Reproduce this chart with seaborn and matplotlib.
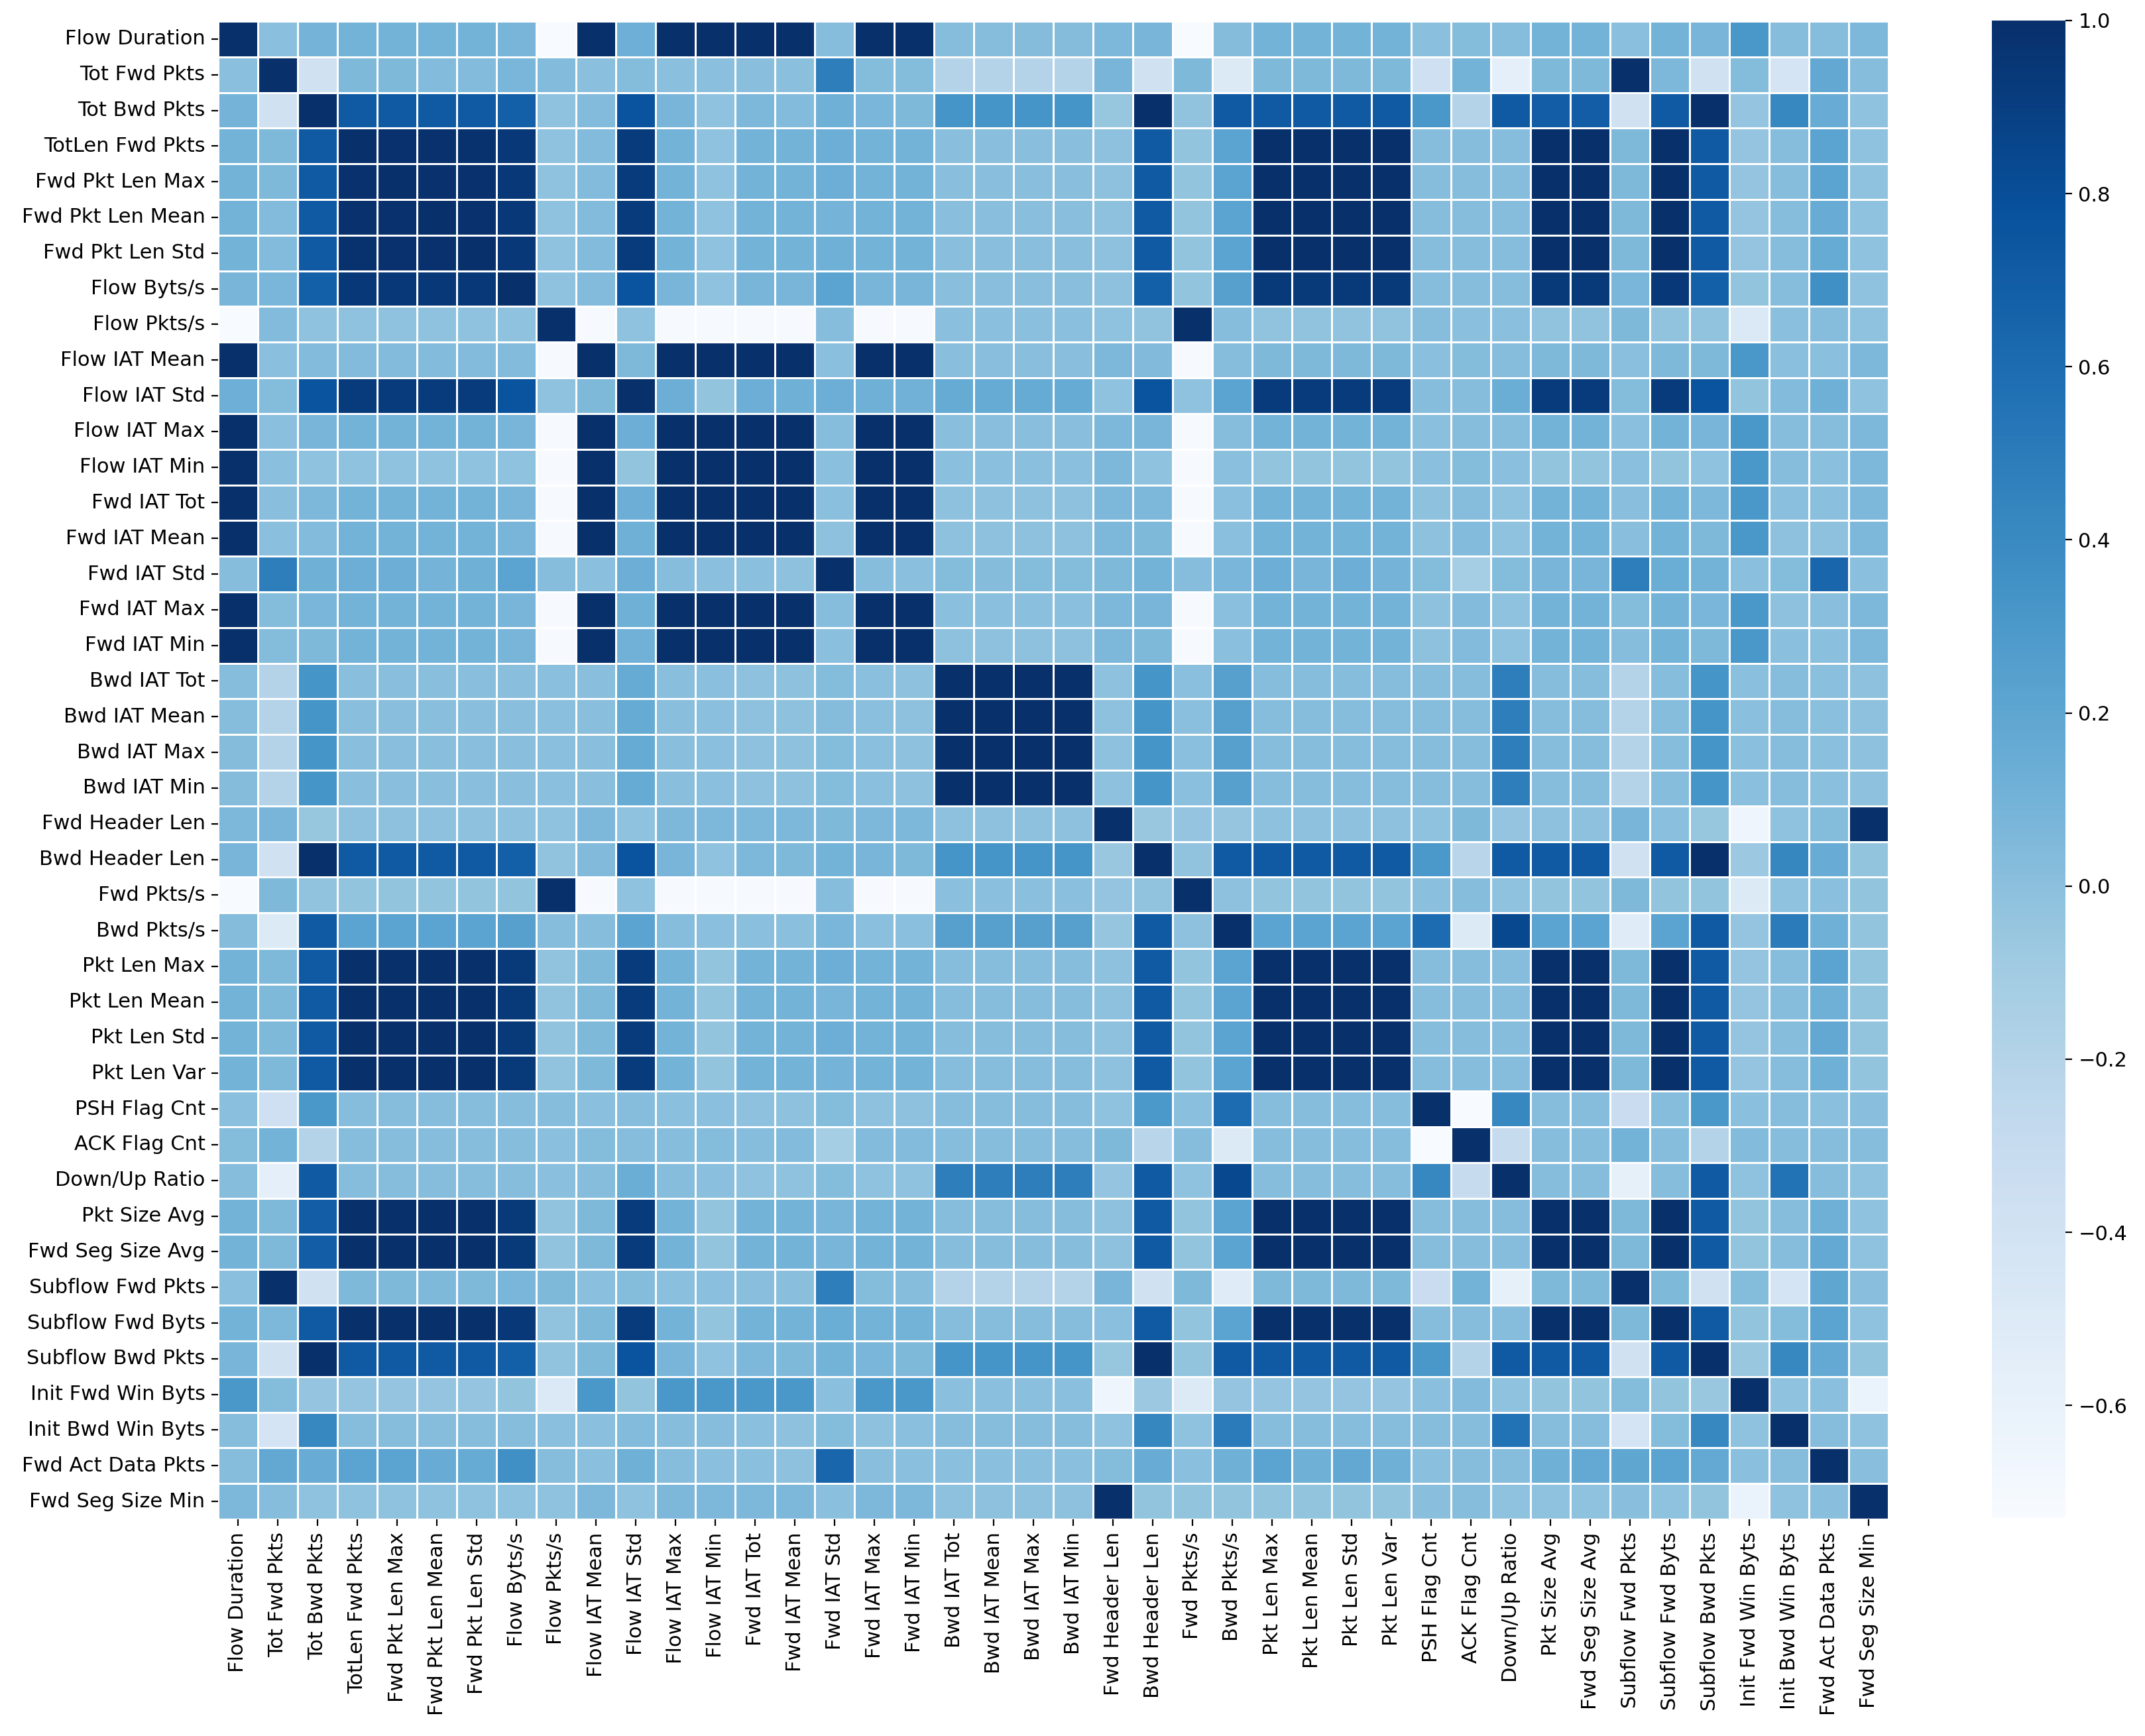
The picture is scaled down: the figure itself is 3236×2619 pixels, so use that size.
import numpy as np
import pandas as pd
import seaborn as sns
import matplotlib.pyplot as plt

features = [
    "Flow Duration", "Tot Fwd Pkts", "Tot Bwd Pkts", "TotLen Fwd Pkts",
    "Fwd Pkt Len Max", "Fwd Pkt Len Mean", "Fwd Pkt Len Std", "Flow Byts/s",
    "Flow Pkts/s", "Flow IAT Mean", "Flow IAT Std", "Flow IAT Max",
    "Flow IAT Min", "Fwd IAT Tot", "Fwd IAT Mean", "Fwd IAT Std",
    "Fwd IAT Max", "Fwd IAT Min", "Bwd IAT Tot", "Bwd IAT Mean",
    "Bwd IAT Max", "Bwd IAT Min", "Fwd Header Len", "Bwd Header Len",
    "Fwd Pkts/s", "Bwd Pkts/s", "Pkt Len Max", "Pkt Len Mean",
    "Pkt Len Std", "Pkt Len Var", "PSH Flag Cnt", "ACK Flag Cnt",
    "Down/Up Ratio", "Pkt Size Avg", "Fwd Seg Size Avg", "Subflow Fwd Pkts",
    "Subflow Fwd Byts", "Subflow Bwd Pkts", "Init Fwd Win Byts",
    "Init Bwd Win Byts", "Fwd Act Data Pkts", "Fwd Seg Size Min",
]

# correlation values, one list per row
corr_rows = [
    [1, 0.0, 0.1, 0.1, 0.1, 0.1, 0.1, 0.08, -0.73, 1,
     0.12, 1, 1, 1, 1, 0.02, 1, 1, 0.02, 0.02,
     0.03, 0.03, 0.06, 0.08, -0.73, 0.03, 0.1, 0.1, 0.1, 0.1,
     0.0, 0.03, 0.02, 0.1, 0.1, 0.0, 0.1, 0.08, 0.31, 0.02,
     0.02, 0.06],
    [0.0, 1, -0.38, 0.05, 0.05, 0.04, 0.04, 0.07, 0.04, 0.0,
     0.03, 0.0, 0.0, 0.01, 0.0, 0.48, 0.03, 0.03, -0.2, -0.2,
     -0.2, -0.2, 0.08, -0.38, 0.05, -0.5, 0.05, 0.05, 0.05, 0.05,
     -0.37, 0.1, -0.57, 0.05, 0.05, 1, 0.06, -0.38, 0.03, -0.42,
     0.18, 0.02],
    [0.08, -0.38, 1, 0.72, 0.72, 0.72, 0.72, 0.68, -0.02, 0.04,
     0.77, 0.08, -0.02, 0.06, 0.04, 0.12, 0.07, 0.05, 0.33, 0.33,
     0.33, 0.33, -0.05, 1, -0.02, 0.72, 0.72, 0.72, 0.72, 0.72,
     0.31, -0.2, 0.72, 0.7, 0.7, -0.38, 0.72, 1, -0.04, 0.42,
     0.15, -0.02],
    [0.1, 0.05, 0.72, 1, 0.99, 0.99, 0.98, 0.94, -0.02, 0.04,
     0.92, 0.1, -0.02, 0.1, 0.1, 0.13, 0.1, 0.1, 0.01, 0.01,
     0.01, 0.01, -0.01, 0.72, -0.03, 0.22, 1, 1, 1, 1,
     0.02, 0.02, 0.02, 1, 1, 0.05, 1, 0.72, -0.04, 0.02,
     0.22, -0.02],
    [0.1, 0.05, 0.72, 0.99, 1, 0.99, 0.99, 0.94, -0.02, 0.04,
     0.92, 0.1, -0.02, 0.1, 0.1, 0.13, 0.1, 0.1, 0.01, 0.01,
     0.01, 0.01, -0.01, 0.72, -0.03, 0.22, 1, 1, 1, 1,
     0.02, 0.02, 0.02, 1, 1, 0.05, 1, 0.72, -0.04, 0.02,
     0.22, -0.02],
    [0.1, 0.04, 0.72, 0.99, 0.99, 1, 0.99, 0.94, -0.02, 0.04,
     0.92, 0.1, -0.02, 0.1, 0.1, 0.09, 0.1, 0.1, 0.01, 0.01,
     0.01, 0.01, -0.01, 0.72, -0.03, 0.22, 1, 1, 1, 1,
     0.02, 0.02, 0.02, 1, 1, 0.05, 1, 0.72, -0.04, 0.02,
     0.15, -0.02],
    [0.1, 0.04, 0.72, 0.98, 0.99, 0.99, 1, 0.94, -0.02, 0.04,
     0.92, 0.1, -0.02, 0.1, 0.1, 0.12, 0.1, 0.1, 0.01, 0.01,
     0.01, 0.01, -0.01, 0.72, -0.03, 0.22, 1, 1, 1, 1,
     0.02, 0.02, 0.02, 1, 1, 0.05, 1, 0.72, -0.04, 0.02,
     0.16, -0.02],
    [0.08, 0.07, 0.68, 0.94, 0.94, 0.94, 0.94, 1, -0.02, 0.04,
     0.77, 0.08, -0.02, 0.08, 0.08, 0.22, 0.08, 0.07, 0.01, 0.01,
     0.01, 0.01, -0.01, 0.68, -0.03, 0.24, 0.93, 0.93, 0.93, 0.93,
     0.02, 0.02, 0.02, 0.93, 0.93, 0.07, 0.94, 0.68, -0.03, 0.02,
     0.36, -0.02],
    [-0.73, 0.04, -0.02, -0.02, -0.02, -0.02, -0.02, -0.02, 1, -0.72,
     -0.02, -0.72, -0.72, -0.72, -0.72, 0.02, -0.72, -0.72, 0.0, 0.0,
     0.0, 0.0, -0.02, -0.02, 1, 0.02, -0.02, -0.02, -0.02, -0.02,
     0.02, 0.0, 0.0, -0.02, -0.02, 0.05, -0.02, -0.02, -0.48, 0.0,
     0.02, -0.02],
    [1, 0.0, 0.04, 0.04, 0.04, 0.04, 0.04, 0.04, -0.72, 1,
     0.05, 1, 1, 1, 1, 0.0, 1, 1, 0.01, 0.01,
     0.01, 0.01, 0.06, 0.05, -0.72, 0.02, 0.05, 0.05, 0.05, 0.05,
     0.0, 0.03, 0.02, 0.05, 0.05, 0.0, 0.05, 0.05, 0.31, 0.0,
     0.0, 0.06],
    [0.13, 0.03, 0.77, 0.92, 0.92, 0.92, 0.92, 0.77, -0.02, 0.05,
     1, 0.13, -0.03, 0.13, 0.12, 0.13, 0.12, 0.1, 0.16, 0.16,
     0.16, 0.16, -0.02, 0.77, -0.02, 0.22, 0.92, 0.92, 0.92, 0.92,
     0.02, 0.02, 0.14, 0.92, 0.92, 0.03, 0.92, 0.77, -0.03, 0.04,
     0.12, -0.02],
    [1, 0.0, 0.08, 0.1, 0.1, 0.1, 0.1, 0.08, -0.72, 1,
     0.13, 1, 1, 1, 1, 0.02, 1, 1, 0.01, 0.01,
     0.01, 0.01, 0.06, 0.08, -0.72, 0.02, 0.1, 0.1, 0.1, 0.1,
     0.0, 0.02, 0.02, 0.1, 0.1, 0.0, 0.1, 0.08, 0.31, 0.02,
     0.02, 0.06],
    [1, 0.0, -0.02, -0.02, -0.02, -0.02, -0.02, -0.02, -0.72, 1,
     -0.03, 1, 1, 1, 1, 0.0, 1, 1, 0.0, 0.0,
     0.0, 0.0, 0.06, -0.02, -0.72, 0.0, -0.03, -0.03, -0.03, -0.03,
     0.0, 0.03, 0.0, -0.03, -0.03, 0.0, -0.03, -0.02, 0.31, 0.02,
     0.0, 0.06],
    [1, 0.01, 0.06, 0.1, 0.1, 0.1, 0.1, 0.08, -0.72, 1,
     0.13, 1, 1, 1, 1, 0.0, 1, 1, -0.01, -0.01,
     -0.01, -0.01, 0.06, 0.06, -0.72, 0.0, 0.1, 0.1, 0.1, 0.1,
     -0.01, 0.02, -0.02, 0.1, 0.1, 0.01, 0.1, 0.06, 0.31, 0.0,
     0.0, 0.06],
    [1, 0.0, 0.04, 0.1, 0.1, 0.1, 0.1, 0.08, -0.72, 1,
     0.12, 1, 1, 1, 1, -0.01, 1, 1, -0.01, -0.01,
     -0.01, -0.01, 0.06, 0.05, -0.72, 0.0, 0.1, 0.1, 0.1, 0.1,
     -0.01, 0.04, -0.02, 0.1, 0.1, 0.01, 0.1, 0.05, 0.31, -0.01,
     -0.01, 0.06],
    [0.02, 0.48, 0.12, 0.13, 0.13, 0.09, 0.12, 0.22, 0.02, 0.0,
     0.13, 0.02, 0.0, 0.0, -0.01, 1, 0.02, 0.0, 0.03, 0.02,
     0.03, 0.03, 0.05, 0.1, 0.02, 0.07, 0.13, 0.08, 0.13, 0.09,
     0.03, -0.12, 0.03, 0.08, 0.08, 0.48, 0.14, 0.1, 0.0, 0.03,
     0.64, 0.0],
    [1, 0.03, 0.07, 0.1, 0.1, 0.1, 0.1, 0.08, -0.72, 1,
     0.12, 1, 1, 1, 1, 0.02, 1, 1, 0.0, 0.0,
     0.0, 0.0, 0.06, 0.07, -0.72, 0.0, 0.1, 0.1, 0.1, 0.1,
     -0.01, 0.04, -0.02, 0.1, 0.1, 0.03, 0.1, 0.07, 0.31, -0.01,
     0.01, 0.06],
    [1, 0.03, 0.05, 0.1, 0.1, 0.1, 0.1, 0.08, -0.72, 1,
     0.12, 1, 1, 1, 1, 0.0, 1, 1, -0.01, -0.01,
     -0.01, -0.01, 0.06, 0.05, -0.72, 0.0, 0.1, 0.1, 0.1, 0.1,
     -0.01, 0.04, -0.02, 0.1, 0.1, 0.02, 0.1, 0.05, 0.31, 0.0,
     0.0, 0.06],
    [0.02, -0.2, 0.33, 0.01, 0.01, 0.01, 0.01, 0.01, 0.0, 0.01,
     0.16, 0.01, 0.0, -0.01, -0.01, 0.03, 0.0, -0.01, 1, 1,
     1, 1, -0.01, 0.33, 0.0, 0.24, 0.02, 0.02, 0.02, 0.02,
     0.02, 0.02, 0.48, 0.02, 0.02, -0.2, 0.02, 0.33, 0.0, 0.02,
     0.0, -0.01],
    [0.02, -0.2, 0.33, 0.01, 0.01, 0.01, 0.01, 0.01, 0.0, 0.01,
     0.16, 0.01, 0.0, -0.01, -0.01, 0.03, 0.0, -0.01, 1, 1,
     1, 1, -0.01, 0.33, 0.0, 0.24, 0.02, 0.02, 0.02, 0.02,
     0.02, 0.02, 0.48, 0.02, 0.02, -0.2, 0.02, 0.33, 0.0, 0.02,
     0.0, -0.01],
    [0.02, -0.2, 0.33, 0.01, 0.01, 0.01, 0.01, 0.01, 0.0, 0.01,
     0.16, 0.01, 0.0, -0.01, -0.01, 0.03, 0.0, -0.01, 1, 1,
     1, 1, -0.01, 0.33, 0.0, 0.24, 0.02, 0.02, 0.02, 0.02,
     0.02, 0.02, 0.48, 0.02, 0.02, -0.2, 0.02, 0.33, 0.0, 0.02,
     0.0, -0.01],
    [0.02, -0.2, 0.33, 0.01, 0.01, 0.01, 0.01, 0.01, 0.0, 0.01,
     0.16, 0.01, 0.0, -0.01, -0.01, 0.03, 0.0, -0.01, 1, 1,
     1, 1, -0.01, 0.33, 0.0, 0.24, 0.02, 0.02, 0.02, 0.02,
     0.02, 0.02, 0.48, 0.02, 0.02, -0.2, 0.02, 0.33, 0.0, 0.02,
     0.0, -0.01],
    [0.06, 0.08, -0.05, -0.01, -0.01, -0.01, -0.01, -0.01, -0.02, 0.06,
     -0.02, 0.06, 0.06, 0.06, 0.06, 0.05, 0.06, 0.06, -0.01, -0.01,
     -0.01, -0.01, 1, -0.06, -0.03, -0.04, -0.01, -0.01, -0.01, -0.01,
     -0.02, 0.05, -0.04, -0.01, -0.01, 0.08, 0.0, -0.05, -0.65, -0.02,
     0.03, 1],
    [0.08, -0.38, 1, 0.72, 0.72, 0.72, 0.72, 0.68, -0.03, 0.04,
     0.77, 0.08, -0.02, 0.06, 0.05, 0.1, 0.08, 0.05, 0.33, 0.33,
     0.33, 0.33, -0.06, 1, -0.02, 0.72, 0.72, 0.72, 0.72, 0.72,
     0.3, -0.22, 0.72, 0.72, 0.72, -0.38, 0.72, 1, -0.07, 0.43,
     0.15, -0.03],
    [-0.73, 0.05, -0.03, -0.03, -0.03, -0.03, -0.03, -0.03, 1, -0.72,
     -0.02, -0.72, -0.72, -0.72, -0.72, 0.02, -0.72, -0.72, 0.0, 0.0,
     0.0, 0.0, -0.04, -0.03, 1, -0.01, -0.03, -0.03, -0.03, -0.03,
     0.0, 0.02, -0.02, -0.03, -0.03, 0.05, -0.03, -0.03, -0.5, -0.02,
     0.0, -0.03],
    [0.02, -0.5, 0.72, 0.22, 0.22, 0.22, 0.22, 0.24, 0.02, 0.02,
     0.22, 0.02, 0.0, 0.0, 0.0, 0.07, 0.0, 0.0, 0.24, 0.24,
     0.24, 0.24, -0.05, 0.72, -0.01, 1, 0.22, 0.22, 0.22, 0.22,
     0.6, -0.5, 0.84, 0.22, 0.22, -0.52, 0.22, 0.72, -0.04, 0.5,
     0.12, -0.03],
    [0.1, 0.05, 0.72, 1, 1, 1, 1, 0.93, -0.03, 0.05,
     0.92, 0.1, -0.03, 0.1, 0.1, 0.13, 0.1, 0.1, 0.02, 0.02,
     0.02, 0.02, -0.01, 0.72, -0.03, 0.22, 1, 1, 1, 1,
     0.02, 0.02, 0.02, 1, 1, 0.05, 1, 0.72, -0.04, 0.02,
     0.22, -0.03],
    [0.1, 0.05, 0.72, 1, 1, 1, 1, 0.93, -0.03, 0.05,
     0.92, 0.1, -0.03, 0.1, 0.1, 0.08, 0.1, 0.1, 0.02, 0.02,
     0.02, 0.02, -0.01, 0.72, -0.03, 0.22, 1, 1, 1, 1,
     0.02, 0.02, 0.02, 1, 1, 0.05, 1, 0.72, -0.04, 0.02,
     0.12, -0.03],
    [0.1, 0.05, 0.72, 1, 1, 1, 1, 0.93, -0.03, 0.05,
     0.92, 0.1, -0.03, 0.1, 0.1, 0.13, 0.1, 0.1, 0.02, 0.02,
     0.02, 0.02, -0.01, 0.72, -0.03, 0.22, 1, 1, 1, 1,
     0.02, 0.02, 0.02, 1, 1, 0.05, 1, 0.72, -0.04, 0.02,
     0.18, -0.03],
    [0.1, 0.05, 0.72, 1, 1, 1, 1, 0.93, -0.03, 0.05,
     0.92, 0.1, -0.03, 0.1, 0.1, 0.09, 0.1, 0.1, 0.02, 0.02,
     0.02, 0.02, -0.01, 0.72, -0.03, 0.22, 1, 1, 1, 1,
     0.02, 0.02, 0.02, 1, 1, 0.05, 1, 0.72, -0.04, 0.02,
     0.12, -0.03],
    [0.0, -0.37, 0.31, 0.02, 0.02, 0.02, 0.02, 0.02, 0.02, 0.0,
     0.02, 0.0, 0.0, -0.01, -0.01, 0.03, -0.01, -0.01, 0.02, 0.02,
     0.02, 0.02, -0.02, 0.3, 0.0, 0.6, 0.02, 0.02, 0.02, 0.02,
     1, -0.73, 0.42, 0.02, 0.02, -0.33, 0.02, 0.31, 0.0, 0.02,
     0.0, 0.01],
    [0.03, 0.1, -0.2, 0.02, 0.02, 0.02, 0.02, 0.02, 0.0, 0.03,
     0.02, 0.02, 0.03, 0.02, 0.04, -0.12, 0.04, 0.04, 0.02, 0.02,
     0.02, 0.02, 0.05, -0.22, 0.02, -0.5, 0.02, 0.02, 0.02, 0.02,
     -0.73, 1, -0.3, 0.02, 0.02, 0.1, 0.02, -0.2, 0.04, 0.02,
     0.02, 0.02],
    [0.02, -0.57, 0.72, 0.02, 0.02, 0.02, 0.02, 0.02, 0.0, 0.02,
     0.14, 0.02, 0.0, -0.02, -0.02, 0.03, -0.02, -0.02, 0.48, 0.48,
     0.48, 0.48, -0.04, 0.72, -0.02, 0.84, 0.02, 0.02, 0.02, 0.02,
     0.42, -0.3, 1, 0.02, 0.02, -0.58, 0.02, 0.72, -0.02, 0.56,
     0.02, -0.02],
    [0.1, 0.05, 0.7, 1, 1, 1, 1, 0.93, -0.03, 0.05,
     0.92, 0.1, -0.03, 0.1, 0.1, 0.08, 0.1, 0.1, 0.02, 0.02,
     0.02, 0.02, -0.01, 0.72, -0.03, 0.22, 1, 1, 1, 1,
     0.02, 0.02, 0.02, 1, 1, 0.05, 1, 0.72, -0.03, 0.02,
     0.12, -0.02],
    [0.1, 0.05, 0.7, 1, 1, 1, 1, 0.93, -0.03, 0.05,
     0.92, 0.1, -0.03, 0.1, 0.1, 0.08, 0.1, 0.1, 0.02, 0.02,
     0.02, 0.02, -0.01, 0.72, -0.03, 0.22, 1, 1, 1, 1,
     0.02, 0.02, 0.02, 1, 1, 0.05, 1, 0.72, -0.03, 0.02,
     0.17, -0.02],
    [0.0, 1, -0.38, 0.05, 0.05, 0.05, 0.05, 0.07, 0.05, 0.0,
     0.03, 0.0, 0.0, 0.01, 0.01, 0.48, 0.03, 0.02, -0.2, -0.2,
     -0.2, -0.2, 0.08, -0.38, 0.05, -0.52, 0.05, 0.05, 0.05, 0.05,
     -0.33, 0.1, -0.58, 0.05, 0.05, 1, 0.05, -0.38, 0.03, -0.42,
     0.2, 0.01],
    [0.1, 0.06, 0.72, 1, 1, 1, 1, 0.94, -0.03, 0.05,
     0.92, 0.1, -0.03, 0.1, 0.1, 0.14, 0.1, 0.1, 0.02, 0.02,
     0.02, 0.02, 0.0, 0.72, -0.03, 0.22, 1, 1, 1, 1,
     0.02, 0.02, 0.02, 1, 1, 0.05, 1, 0.72, -0.03, 0.03,
     0.22, -0.02],
    [0.08, -0.38, 1, 0.72, 0.72, 0.72, 0.72, 0.68, -0.03, 0.05,
     0.77, 0.08, -0.02, 0.06, 0.05, 0.1, 0.07, 0.05, 0.33, 0.33,
     0.33, 0.33, -0.05, 1, -0.03, 0.72, 0.72, 0.72, 0.72, 0.72,
     0.31, -0.2, 0.72, 0.72, 0.72, -0.38, 0.72, 1, -0.06, 0.42,
     0.17, -0.03],
    [0.31, 0.03, -0.04, -0.04, -0.04, -0.04, -0.04, -0.03, -0.48, 0.31,
     -0.03, 0.31, 0.31, 0.31, 0.31, 0.0, 0.31, 0.31, 0.0, 0.0,
     0.0, 0.0, -0.65, -0.07, -0.5, -0.04, -0.04, -0.04, -0.04, -0.04,
     0.0, 0.04, -0.02, -0.03, -0.03, 0.03, -0.03, -0.06, 1, -0.02,
     0.0, -0.62],
    [0.02, -0.42, 0.42, 0.02, 0.02, 0.02, 0.02, 0.02, 0.0, 0.0,
     0.04, 0.02, 0.02, 0.0, -0.01, 0.03, -0.01, 0.0, 0.02, 0.02,
     0.02, 0.02, -0.02, 0.43, -0.02, 0.5, 0.02, 0.02, 0.02, 0.02,
     0.02, 0.02, 0.56, 0.02, 0.02, -0.42, 0.03, 0.42, -0.02, 1,
     0.02, -0.02],
    [0.02, 0.18, 0.15, 0.22, 0.22, 0.15, 0.16, 0.36, 0.02, 0.0,
     0.12, 0.02, 0.0, 0.0, -0.01, 0.64, 0.01, 0.0, 0.0, 0.0,
     0.0, 0.0, 0.03, 0.15, 0.0, 0.12, 0.22, 0.12, 0.18, 0.12,
     0.0, 0.02, 0.02, 0.12, 0.17, 0.2, 0.22, 0.17, 0.0, 0.02,
     1, 0.01],
    [0.06, 0.02, -0.02, -0.02, -0.02, -0.02, -0.02, -0.02, -0.02, 0.06,
     -0.02, 0.06, 0.06, 0.06, 0.06, 0.0, 0.06, 0.06, -0.01, -0.01,
     -0.01, -0.01, 1, -0.03, -0.03, -0.03, -0.03, -0.03, -0.03, -0.03,
     0.01, 0.02, -0.02, -0.02, -0.02, 0.01, -0.02, -0.03, -0.62, -0.02,
     0.01, 1],
]

corr = np.array(corr_rows, dtype=float)
corr = (corr + corr.T) / 2
df = pd.DataFrame(corr, index=features, columns=features)

W, H = 3237, 2619
plt.rcParams["font.size"] = 11
fig = plt.figure(figsize=(W / 200, H / 200), dpi=200)
ax = fig.add_axes([329 / W, 1 - 2292 / H, 2520 / W, 2260 / H])
cax = fig.add_axes([3005 / W, 1 - 2290 / H, 111 / W, 2259 / H])

sns.heatmap(df, cmap="Blues", linewidths=1.0, linecolor="white",
            xticklabels=True, yticklabels=True, ax=ax, cbar_ax=cax)

ax.tick_params(axis="x", labelrotation=90)
ax.tick_params(axis="y", labelrotation=0)

fig.savefig("out.png", dpi=200)
